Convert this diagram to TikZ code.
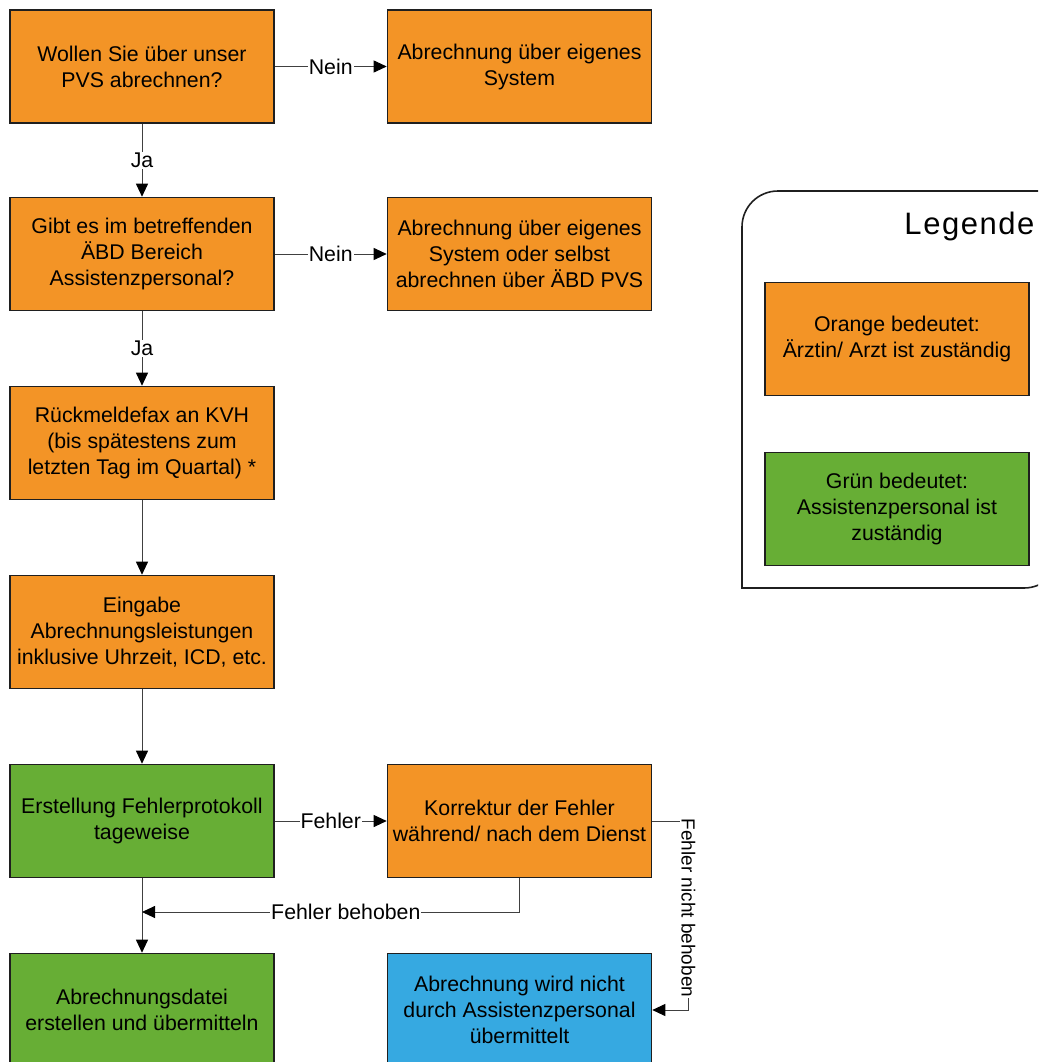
\documentclass[tikz,border=0pt]{standalone}
\usepackage{fontspec}
\setmainfont{Liberation Sans}
\usetikzlibrary{arrows.meta}
\definecolor{orng}{RGB}{243,148,38}
\definecolor{grn}{RGB}{103,174,53}
\definecolor{blu}{RGB}{54,169,225}
\begin{document}
\begin{tikzpicture}[x=1pt,y=-1pt,
  box/.style={draw=black!88, line width=1.6pt, minimum width=264pt, minimum height=113pt,
    inner sep=0pt, align=center, font=\fontsize{21.3}{26}\selectfont},
  conn/.style={draw=black!75, line width=0.9pt},
  arr/.style={conn, -{Triangle[length=13pt,width=12pt,color=black]}},
  lbl/.style={fill=white, inner sep=1pt, font=\fontsize{21.3}{24}\selectfont}]
\useasboundingbox (0,0) rectangle (1038,1062);
\clip (0,0) rectangle (1038,1062);
% flow boxes
\node[box,fill=orng] (b1) at (142,66.5) {Wollen Sie über unser\\PVS abrechnen?};
\node[box,fill=orng] (b2) at (519.5,66.5) {Abrechnung über eigenes\\System};
\node[box,fill=orng] (b3) at (142,254) {Gibt es im betreffenden\\ÄBD Bereich\\Assistenzpersonal?};
\node[box,fill=orng] (b4) at (519.5,254) {Abrechnung über eigenes\\System oder selbst\\abrechnen über ÄBD PVS};
\node[box,fill=orng] (b5) at (142,443) {Rückmeldefax an KVH\\(bis spätestens zum\\letzten Tag im Quartal) *};
\node[box,fill=orng] (b6) at (142,632) {Eingabe\\Abrechnungsleistungen\\inklusive Uhrzeit, ICD, etc.};
\node[box,fill=grn] (b7) at (142,821) {Erstellung Fehlerprotokoll\\tageweise};
\node[box,fill=orng] (b8) at (519.5,821) {Korrektur der Fehler\\während/ nach dem Dienst};
\node[box,fill=grn] (b9) at (142,1010) {Abrechnungsdatei\\erstellen und übermitteln};
\node[box,fill=blu] (b10) at (519.5,1010) {Abrechnung wird nicht\\durch Assistenzpersonal\\übermittelt};
% connectors
\draw[arr] (b1) -- node[lbl]{Nein} (b2);
\draw[arr] (b1) -- node[lbl]{Ja} (b3);
\draw[arr] (b3) -- node[lbl]{Nein} (b4);
\draw[arr] (b3) -- node[lbl]{Ja} (b5);
\draw[arr] (b5) -- (b6);
\draw[arr] (b6) -- (b7);
\draw[arr] (b7) -- node[lbl]{Fehler} (b8);
\draw[arr] (b7) -- (b9);
\coordinate (m) at (142,912);
\draw[arr] (b8.south) |- (m) node[lbl,pos=0.73]{Fehler behoben};
\draw[arr] (b8.east) -- ++(36,0) |- (b10.east) node[lbl,rotate=-90,pos=0.23,font=\fontsize{19}{22}\selectfont]{Fehler nicht behoben};
% legend
\draw[draw=black!88, line width=1.6pt] (742,588) -- (742,227) .. controls (742,207) and (758,191) .. (778,191)
  -- (1060,191) -- (1060,552) .. controls (1060,572) and (1044,588) .. (1024,588) -- cycle;
\node[font=\fontsize{31}{36}\selectfont\addfontfeature{LetterSpace=5}, anchor=east] (lt) at (1038,226) {Legende};
\node[box,fill=orng] (l1) at (897,339) {Orange bedeutet:\\Ärztin/ Arzt ist zuständig};
\node[box,fill=grn] (l2) at (897,509) {Grün bedeutet:\\Assistenzpersonal ist\\zuständig};
\end{tikzpicture}
\end{document}
